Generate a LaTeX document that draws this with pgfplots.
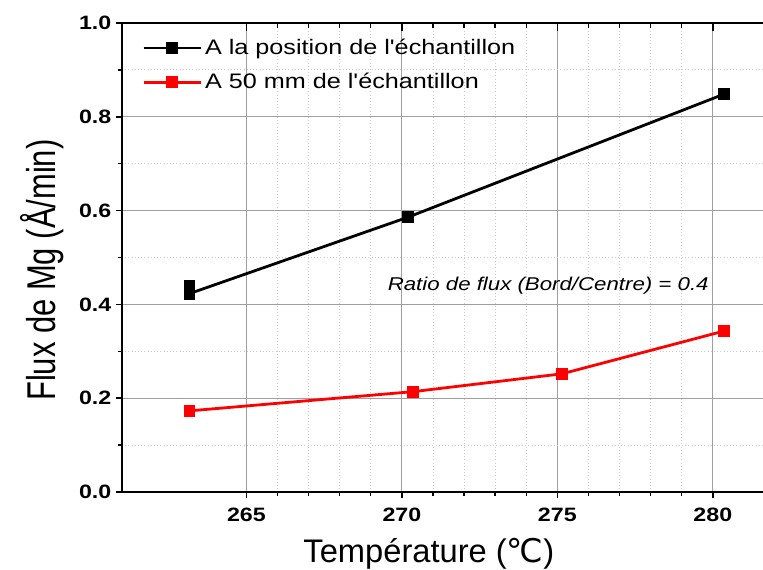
\documentclass[border=0pt]{standalone}
\usepackage{pgfplots}
\pgfplotsset{compat=1.18}
\usepackage{fontspec}
\setmainfont{Liberation Sans}
\newfontfamily\widesans[FakeStretch=1.2]{Liberation Sans}
\newfontfamily\degfont{DejaVu Sans}

\pgfplotstableread{
T      F
263.17 0.440
263.17 0.423
270.20 0.586
280.35 0.848
}\posech

\pgfplotstableread{
T      F
263.17 0.173
270.37 0.214
275.15 0.252
280.35 0.343
}\cinquantemm

\begin{document}
\begin{tikzpicture}[x=1pt,y=1pt]
\useasboundingbox (-91.5,-58.5) rectangle (480.75,369);
\pgfplotsset{
  fluxaxis/.style={
    at={(0,0)}, anchor=south west,
    scale only axis, width=489.75pt, height=351.75pt,
    xmin=261, xmax=282, ymin=0, ymax=1,
    xtick={265,270,275,280}, ytick={0,0.2,...,1.0},
    minor x tick num=4, minor y tick num=1,
    major tick length=4.5pt, minor tick length=3pt,
    tick style={black, line width=1.1pt},
  }
}
\begin{axis}[
  fluxaxis,
  xtick pos=bottom, ytick pos=left,
  tick align=outside,
  axis line style={line width=1.6pt},
  grid=both,
  major grid style={gray!75, line width=0.6pt},
  minor grid style={gray!40, dotted, line width=0.6pt},
  /pgf/number format/assume math mode=true,
  ticklabel style={font=\widesans\bfseries\fontsize{14.5}{16}\selectfont},
  yticklabel style={/pgf/number format/.cd, fixed, fixed zerofill, precision=1},
  xticklabel style={yshift=-4pt, /pgf/number format/.cd, fixed, precision=0},
  xlabel={Température ({\degfont ℃})},
  xlabel style={at={(rel axis cs:0.470,0)}, anchor=base, yshift=-53pt,
    font=\fontsize{24.5}{26}\selectfont},
  ylabel={\scalebox{1}[1.3]{Flux de Mg (Å/min)}},
  ylabel style={at={(rel axis cs:0,0.473)}, anchor=center, yshift=60pt,
    font=\fontsize{23.2}{25}\selectfont},
  legend cell align=left,
  legend style={at={(rel axis cs:0,1)}, anchor=north west, xshift=12pt, yshift=-8pt,
    draw=none, fill=none, row sep=8.5pt,
    font=\widesans\fontsize{15.75}{18}\selectfont},
  legend image code/.code={
    \draw[#1, mark repeat=2, mark phase=2]
      plot coordinates {(0pt,0pt) (21.5pt,0pt) (43pt,0pt)};
  },
]
\addplot[black, line width=2.1pt, mark=square*, mark size=3.4pt,
  mark options={solid}] table[x=T, y=F] {\posech};
\addlegendentry{A la position de l'échantillon}
\addplot[red, line width=2.1pt, mark=square*, mark size=3.4pt,
  mark options={solid}] table[x=T, y=F] {\cinquantemm};
\addlegendentry{A 50 mm de l'échantillon}
\node[anchor=west, inner sep=0pt,
  font=\widesans\itshape\fontsize{13.9}{15}\selectfont]
  at (axis cs:269.54,0.439) {Ratio de flux (Bord/Centre) = 0.4};
\end{axis}
% inward ticks along the top edge
\begin{axis}[
  fluxaxis,
  axis x line*=top, axis y line=none,
  axis line style={line width=1.6pt},
  tick align=inside,
  xticklabels={},
  major tick length=6pt, minor tick length=3.75pt,
]
\end{axis}
\end{tikzpicture}
\end{document}
